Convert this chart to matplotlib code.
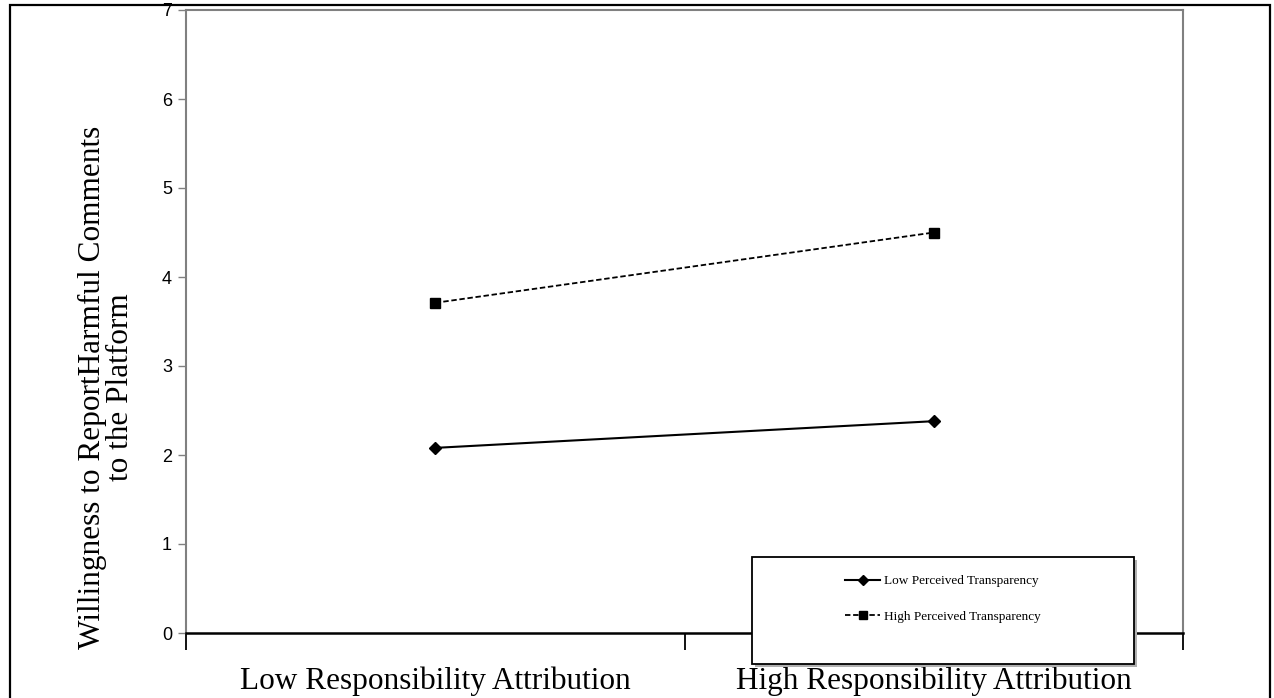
import matplotlib.pyplot as plt
from matplotlib.patches import Rectangle

conditions = ["Low Responsibility Attribution", "High Responsibility Attribution"]
low_transparency = [2.08, 2.38]
high_transparency = [3.71, 4.50]
series_names = ["Low Perceived Transparency", "High Perceived Transparency"]
y_ticks = [0, 1, 2, 3, 4, 5, 6, 7]

serif = ["Liberation Serif", "DejaVu Serif"]
sans = ["Liberation Sans", "DejaVu Sans"]

W, H = 1274, 698
fig = plt.figure(figsize=(W / 100, H / 100), dpi=100)
ax = fig.add_axes([186 / W, 1 - 633 / H, (1183 - 186) / W, (633 - 10) / H])

x = range(len(conditions))
ax.plot(x, low_transparency, color="k", lw=1.5, marker="D", ms=6,
        label=series_names[0])
ax.plot(x, high_transparency, color="k", lw=1.3, ls=(0, (3, 1.5)), marker="s",
        ms=7, label=series_names[1])

ax.set_xlim(-0.5, 1.5)
ax.set_ylim(0, 7)
ax.set_yticks(y_ticks)
ax.set_yticklabels([str(t) for t in y_ticks], family=sans, fontsize=13)
ax.tick_params(axis="y", color="#808080", length=6, width=1, pad=4)

# category labels sit between tick marks at the bin edges
ax.set_xticks([-0.5, 0.5, 1.5])
ax.set_xticklabels([])
ax.set_xticks(list(x), minor=True)
ax.set_xticklabels(conditions, minor=True, family=serif, fontsize=22.5)
ax.tick_params(axis="x", which="major", direction="out", length=12, width=1.3,
               color="k")
ax.tick_params(axis="x", which="minor", length=0, pad=24)

for side in ["left", "top", "right"]:
    ax.spines[side].set_color("#808080")
    ax.spines[side].set_linewidth(1.5)
ax.spines["bottom"].set_color("k")
ax.spines["bottom"].set_linewidth(1.8)

ax.set_ylabel("Willingness to ReportHarmful Comments\nto the Platform",
              family=serif, fontsize=22.5, linespacing=0.95,
              multialignment="center")
ax.yaxis.set_label_coords((135 - 186) / 997, (633 - 387) / 623)

# legend box with a thin shadow, sitting over the x axis
x0, y0, x1, y1 = 752 / W, 1 - 664 / H, 1134 / W, 1 - 557 / H
fig.patches.append(Rectangle((x0 + 0.002, y0 - 0.004), x1 - x0, y1 - y0,
                             transform=fig.transFigure, facecolor="#b0b0b0",
                             edgecolor="none", zorder=5))
fig.patches.append(Rectangle((x0, y0), x1 - x0, y1 - y0,
                             transform=fig.transFigure, facecolor="white",
                             edgecolor="k", lw=1.3, zorder=6))
leg = fig.legend(loc="center", bbox_to_anchor=(943 / W, 1 - 599 / H),
                 frameon=False, prop={"family": serif, "size": 9.5},
                 handlelength=2.7, handletextpad=0.3, labelspacing=1.8,
                 markerscale=0.8)
leg.set_zorder(7)

# outer frame of the figure
fig.patches.append(Rectangle((10 / W, -0.02), (1270 - 10) / W, 1.02 - 5 / H,
                             transform=fig.transFigure, facecolor="none",
                             edgecolor="k", lw=1.6, zorder=8))

fig.savefig("out.png", dpi=100)
